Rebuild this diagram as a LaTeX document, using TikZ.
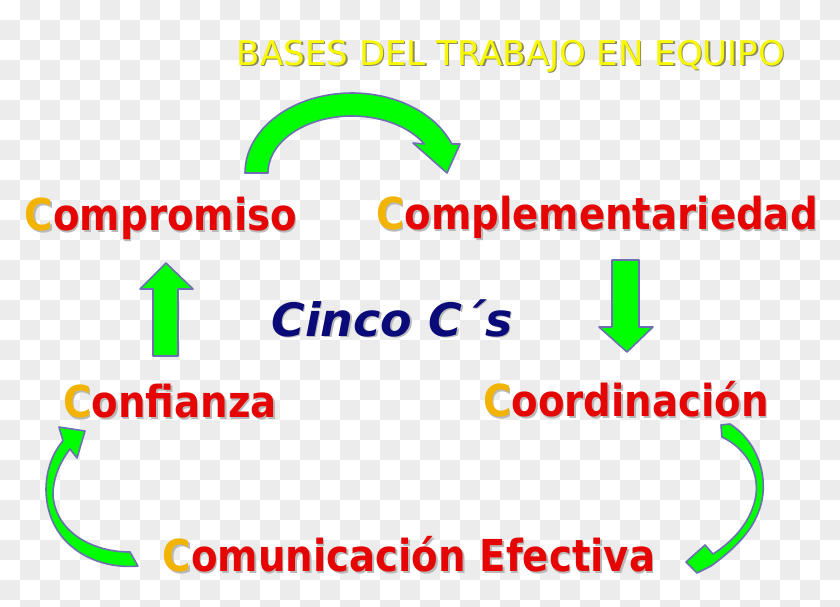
\documentclass[tikz,border=0pt]{standalone}
\usepackage{fontspec}
\setmainfont{DejaVu Sans}
\newfontfamily\wordfont{DejaVu Sans Bold}[FakeStretch=0.88]
\newfontfamily\cincofont{DejaVu Sans Bold Oblique}
\definecolor{cred}{HTML}{E60505}
\definecolor{cgold}{HTML}{F2B400}
\definecolor{wshadow}{HTML}{B8B8B8}
\definecolor{tyellow}{HTML}{F8F800}
\definecolor{tshadow}{HTML}{8A8A60}
\definecolor{navy}{HTML}{0A0A78}
\definecolor{agreen}{HTML}{00FF00}
\definecolor{aedge}{HTML}{6E6EB4}
\definecolor{checker}{HTML}{ECECEC}
% shadowed word: first letter gold, rest red
\newcommand{\cword}[2]{\makebox[0pt][l]{\hspace*{1.5pt}\raisebox{-2.5pt}{\color{wshadow}#1#2}}{\color{cgold}#1}{\color{cred}#2}}
% shadowed text in one colour
\newcommand{\shtext}[3]{\makebox[0pt][l]{\hspace*{1.5pt}\raisebox{-1.5pt}{\color{#3}#1}}{\color{#2}#1}}
\tikzset{
  word/.style={anchor=base, inner sep=0pt, font=\wordfont\fontsize{44}{48}\selectfont},
  heading/.style={anchor=base, inner sep=0pt, font=\fontsize{34}{40}\selectfont},
  cinco/.style={anchor=base, inner sep=0pt, font=\cincofont\fontsize{46}{50}\selectfont},
  blockarrow/.style={fill=agreen, draw=aedge, line width=1.6pt, line join=round},
}
\begin{document}
\begin{tikzpicture}[x=1pt,y=-1pt]
  \useasboundingbox (0,0) rectangle (840,606);
  \clip (0,0) rectangle (840,606);
  % checker background
  \foreach \x in {20,60,...,820}
    \foreach \y in {0,40,...,600}
      \fill[checker] (\x,\y) rectangle ++(20,20);
  \foreach \x in {0,40,...,800}
    \foreach \y in {20,60,...,580}
      \fill[checker] (\x,\y) rectangle ++(20,20);
  \node[heading] (bases) at (511,65) {\shtext{BASES DEL TRABAJO EN EQUIPO}{tyellow}{tshadow}};
  \node[word] (comp) at (161,230) {\cword{C}{ompromiso}};
  \node[word] (compl) at (597,229) {\cword{C}{omplementariedad}};
  \node[cinco] (cinco) at (392,336) {\shtext{Cinco C´s}{navy}{wshadow}};
  \node[word] (conf) at (170,417) {\cword{C}{onfianza}};
  \node[word] (coord) at (626,416) {\cword{C}{oordinación}};
  \node[word] (comun) at (409,571) {\cword{C}{omunicación Efectiva}};
  % top arc arrow
  \filldraw[blockarrow] (245,173) arc[start angle=180, end angle=338.7, x radius=107, y radius=80]
    -- (460,144) -- (447,173) -- (413,143) -- (424.3,144)
    arc[start angle=329.4, end angle=180, x radius=84, y radius=57] -- cycle;
  % straight arrows
  \filldraw[blockarrow] (153,356) -- (153,289) -- (140,289) -- (166,263) -- (193,289)
    -- (178,289) -- (178,356) -- cycle;
  \filldraw[blockarrow] (612,260) -- (612,327) -- (599,327) -- (627,352) -- (653,327)
    -- (639,327) -- (639,260) -- cycle;
  % right curved arrow
  \filldraw[blockarrow] (721,425) -- (730,424) .. controls (758,442) and (767,475) .. (762,500)
    .. controls (757,525) and (740,545) .. (711,566) -- (697,573) -- (686,562) -- (705,545)
    -- (713,554) .. controls (735,540) and (752,520) .. (756,495)
    .. controls (759,470) and (745,448) .. (722,437) -- cycle;
  % left curved arrow
  \filldraw[blockarrow] (130,552) -- (138,566) .. controls (95,570) and (47,545) .. (46,490)
    .. controls (46,470) and (53,452) .. (63,441) -- (59,427) -- (85,431) -- (77,458)
    -- (70,449) .. controls (58,465) and (53,480) .. (53,495)
    .. controls (55,530) and (90,552) .. (130,552) -- cycle;
\end{tikzpicture}
\end{document}
